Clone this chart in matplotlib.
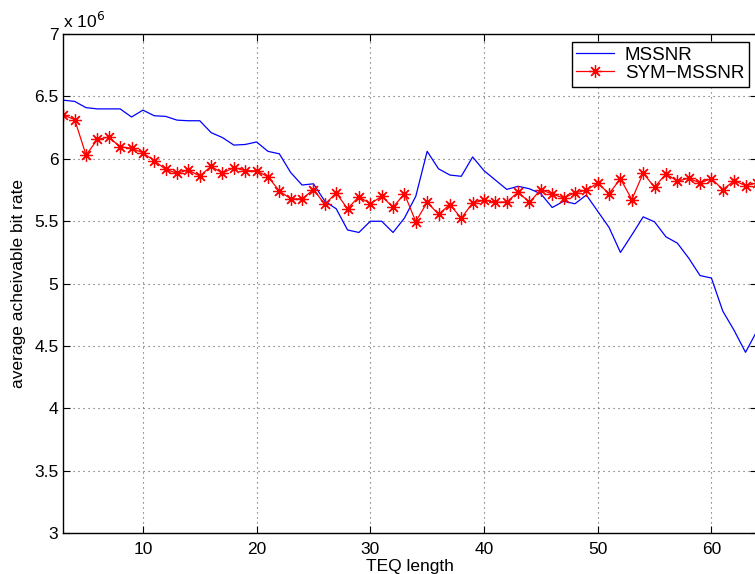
import matplotlib
matplotlib.use("Agg")
import matplotlib.pyplot as plt

# TEQ length
teq_len = list(range(3, 65))

# average achievable bit rate (x 1e6)
mssnr = [6.47, 6.46, 6.41, 6.40, 6.40, 6.40, 6.335, 6.39, 6.345, 6.34,
         6.31, 6.305, 6.305, 6.21, 6.17, 6.11, 6.115, 6.135, 6.06, 6.04,
         5.89, 5.79, 5.80, 5.66, 5.60, 5.43, 5.41, 5.50, 5.50, 5.41,
         5.525, 5.70, 6.06, 5.92, 5.87, 5.86, 6.015, 5.905, 5.83, 5.755,
         5.78, 5.76, 5.72, 5.61, 5.66, 5.64, 5.71, 5.58, 5.45, 5.25,
         5.39, 5.535, 5.495, 5.375, 5.325, 5.205, 5.065, 5.045, 4.78, 4.625,
         4.45, 4.62]

sym_mssnr = [6.35, 6.315, 6.03, 6.155, 6.175, 6.095, 6.085, 6.048, 5.985, 5.915,
             5.885, 5.91, 5.862, 5.94, 5.885, 5.93, 5.905, 5.904, 5.856, 5.743,
             5.679, 5.679, 5.754, 5.636, 5.727, 5.60, 5.698, 5.639, 5.70, 5.613,
             5.72, 5.497, 5.652, 5.556, 5.634, 5.524, 5.647, 5.668, 5.652, 5.655,
             5.733, 5.652, 5.754, 5.717, 5.687, 5.727, 5.749, 5.805, 5.722, 5.84,
             5.674, 5.885, 5.773, 5.88, 5.821, 5.845, 5.807, 5.842, 5.754, 5.824,
             5.786, 5.805]

x_ticks = [10, 20, 30, 40, 50, 60]
y_ticks = [3, 3.5, 4, 4.5, 5, 5.5, 6, 6.5, 7]
y_ticklabels = ["3", "3.5", "4", "4.5", "5", "5.5", "6", "6.5", "7"]

plt.rcParams['font.family'] = ['Liberation Sans', 'DejaVu Sans']

fig = plt.figure(figsize=(7.55, 5.74), dpi=100)
# axes runs slightly past the right edge, as in the cropped original
ax = fig.add_axes([63.3 / 755, 40.7 / 574, 693.6 / 755, 499.3 / 574])

ax.plot(teq_len, mssnr, color='#0000ff', linewidth=0.9, label='MSSNR')
ax.plot(teq_len, sym_mssnr, color='#ff0000', linewidth=0.9,
        marker=(8, 2, 0), markersize=9, markeredgewidth=0.9, label='SYM\u2212MSSNR')

ax.set_xlim(3, 64)
ax.set_ylim(3, 7)
ax.set_xticks(x_ticks)
ax.set_yticks(y_ticks)
ax.set_yticklabels(y_ticklabels)
ax.tick_params(direction='in', length=5, top=True, right=True, labelsize=12.5, width=0.8)
ax.tick_params(axis='x', pad=6)
ax.grid(True, linestyle=(0, (1, 3.5)), color='0.35', linewidth=0.8)
for s in ax.spines.values():
    s.set_linewidth(1.0)

ax.set_xlabel('TEQ length', fontsize=12.5, labelpad=2)
ax.set_ylabel('average acheivable bit rate', fontsize=12.5, labelpad=6)
fig.text(63.3 / 755, 1 - 28 / 574, r'x 10$^{6}$', fontsize=12.5, ha='left', va='baseline')

leg = ax.legend(loc='upper right', bbox_to_anchor=(749 / 755, 1 - 42 / 574),
                bbox_transform=fig.transFigure, borderaxespad=0, fontsize=13.5,
                fancybox=False, framealpha=1, edgecolor='black',
                handlelength=2.0, handletextpad=0.6, borderpad=0.25, labelspacing=0.05)
leg.get_frame().set_linewidth(1.0)

fig.savefig('out.png', dpi=100)
